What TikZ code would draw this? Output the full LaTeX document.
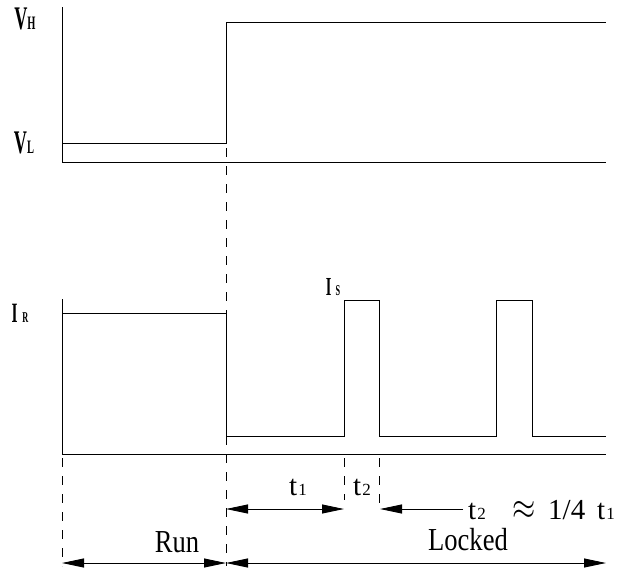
\documentclass[tikz,border=0pt]{standalone}
\usepackage{fontspec}
\setmainfont{Liberation Serif}
\newfontfamily\narrowfont[FakeStretch=0.83]{Liberation Serif}
\newfontfamily\slimfont[FakeStretch=0.55]{Liberation Serif}
\usetikzlibrary{arrows.meta}
\newcommand{\subx}[1]{{\fontsize{17}{17}\selectfont #1}}
\tikzset{
  wave/.style={line width=0.9pt},
  guide/.style={line width=0.8pt,dash pattern=on 9pt off 9pt},
  dim/.style={line width=0.9pt,{Triangle[length=22pt,width=9pt]}-{Triangle[length=22pt,width=9pt]}},
  lbl/.style={inner sep=0pt,font=\narrowfont\fontsize{32}{32}\selectfont},
  tlbl/.style={inner sep=0pt,font=\fontsize{29}{29}\selectfont},
  ylbl/.style={inner sep=0pt,font=\slimfont\bfseries\fontsize{33}{33}\selectfont},
}
\begin{document}
\begin{tikzpicture}[x=1pt,y=-1pt]
  \useasboundingbox (0,0) rectangle (627,571);
  \draw[wave] (62,7) -- (62,162) -- (606,162);
  \draw[wave] (62,143) -- (226,143) -- (226,22) -- (606,22);
  \draw[wave] (62,299) -- (62,454) -- (606,454);
  \draw[wave] (62,313) -- (226,313) -- (226,436) -- (344,436) -- (344,300) -- (379,300) -- (379,436) -- (496,436) -- (496,300) -- (532,300) -- (532,436) -- (606,436);
  \draw[guide] (226,148) -- (226,566);
  \draw[guide] (62,458) -- (62,566);
  \draw[guide] (344,458) -- (344,500);
  \draw[guide] (379,458) -- (379,504);
  \node[ylbl] (VH) at (25,19) {V\fontsize{19}{19}\selectfont H};
  \node[ylbl] (VL) at (24,143) {V\fontsize{19}{19}\selectfont L};
  \node[ylbl,font=\slimfont\bfseries\fontsize{28}{28}\selectfont] (IR) at (20,313) {I\,\fontsize{15}{15}\selectfont R};
  \node[ylbl,font=\slimfont\bfseries\fontsize{26}{26}\selectfont] (IS) at (333,287) {I\,\fontsize{15}{15}\selectfont S};
  \coordinate (ta) at (226,509);
  \coordinate (tb) at (344,509);
  \coordinate (tc) at (380,509);
  \coordinate (td) at (463,509);
  \coordinate (run0) at (62,563);
  \coordinate (lock0) at (226,563);
  \coordinate (lock1) at (606,563);
  \draw[dim] (ta) -- (tb);
  \draw[line width=0.9pt,-{Triangle[length=22pt,width=9pt]}] (td) -- (tc);
  \draw[dim] (run0) -- (lock0);
  \draw[dim] (lock0) -- (lock1);
  \node[tlbl] (t1) at (298,487) {t\kern1pt\subx{1}};
  \node[tlbl] (t2) at (362,487) {t\kern1pt\subx{2}};
  \node[tlbl,anchor=west] (rel) at (468,510) {\makebox[44pt][l]{t\kern1pt\subx{2}}\makebox[36pt][l]{\scalebox{1.2}[1.5]{$\approx$}}\makebox[49pt][l]{1/4}t\kern1pt\subx{1}};
  \node[lbl] (run) at (177,542) {Run};
  \node[lbl] (locked) at (468,540) {Locked};
\end{tikzpicture}
\end{document}
